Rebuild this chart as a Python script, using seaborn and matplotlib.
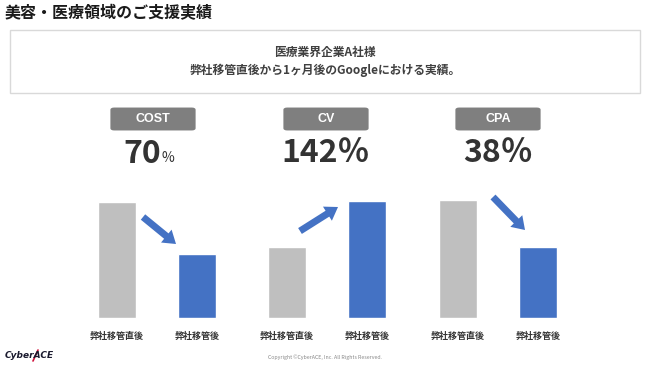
import matplotlib
matplotlib.use("Agg")
import matplotlib.pyplot as plt
import seaborn as sns
import pandas as pd
from matplotlib.patches import FancyBboxPatch, Rectangle, FancyArrowPatch

sns.set_theme(style="white")
plt.rcParams['font.family'] = ['Noto Sans CJK JP', 'DejaVu Sans']

# ---- data ----
categories = ["弊社移管直後", "弊社移管後"]
metrics = ["COST", "CV", "CPA"]
cost_values = [98, 54]
cv_values = [60, 99]
cpa_values = [100, 60]
headline_nums = ["70", "142", "38"]
headline_units = ["%", "％", "％"]
title_text = "美容・医療領域のご支援実績"
box_line1 = "医療業界企業A社様"
box_line2 = "弊社移管直後から1ヶ月後のGoogleにおける実績。"
copyright_text = "Copyright ©CyberACE, Inc. All Rights Reserved."
logo_text = "CyberACE"

GRAY = "#BFBFBF"
BLUE = "#4472C4"
LABEL_BG = "#7F7F7F"
DARK = "#333333"

W, H = 650, 366
fig = plt.figure(figsize=(W / 100, H / 100), dpi=100)
fig.patch.set_facecolor("white")

def fx(px):
    return px / W

def fy(py):
    return 1 - py / H

# Title
fig.text(fx(5), fy(13), title_text, fontsize=11.5, fontweight="bold",
         color="#1a1a1a", ha="left", va="center")

# Header box
fig.add_artist(Rectangle((fx(10), fy(93)), fx(640) - fx(10), fy(30) - fy(93),
                         transform=fig.transFigure, facecolor="white",
                         edgecolor="#D9D9D9", linewidth=1.0))
fig.text(fx(325), fy(52), box_line1, fontsize=8.5, fontweight="bold",
         color="#404040", ha="center", va="center")
fig.text(fx(325), fy(70), box_line2, fontsize=8.5, fontweight="bold",
         color="#404040", ha="center", va="center")

panel_values = [cost_values, cv_values, cpa_values]
axes_left_px = [77, 247, 418]
label_center_px = [153, 326, 498]
arrows_px = [((143, 217), (176, 244)),
             ((300, 231), (338, 207)),
             ((493, 197), (525, 230))]

for i, (metric, vals) in enumerate(zip(metrics, panel_values)):
    left = axes_left_px[i]
    ax = fig.add_axes([fx(left), fy(318), 160 / W, (318 - 200) / H])
    df = pd.DataFrame({"cat": categories, "val": vals})
    sns.barplot(data=df, x="cat", y="val", hue="cat", palette=[GRAY, BLUE],
                order=categories, hue_order=categories, legend=False,
                width=0.48, ax=ax, saturation=1)
    ax.set_xlim(-0.5, 1.5)
    ax.set_ylim(0, 100)
    ax.set_xlabel("")
    ax.set_ylabel("")
    ax.set_yticks([])
    for s in ax.spines.values():
        s.set_visible(False)
    ax.tick_params(axis="x", length=0, pad=10, labelsize=6.5, labelcolor=DARK)
    for lab in ax.get_xticklabels():
        lab.set_fontweight("bold")
    ax.patch.set_alpha(0)

    # metric label box
    cx = label_center_px[i]
    bw, bh = 86, 26
    fig.add_artist(FancyBboxPatch((fx(cx - bw / 2 + 3), fy(132 - 3)),
                                  (bw - 6) / W, (bh - 6) / H,
                                  boxstyle="round,pad=0.004,rounding_size=0.006",
                                  transform=fig.transFigure,
                                  facecolor=LABEL_BG, edgecolor="none"))
    fig.text(fx(cx), fy(119), metric, fontsize=9, fontweight="bold",
             color="white", ha="center", va="center", family="Liberation Sans")

    # headline number
    num = headline_nums[i]
    unit = headline_units[i]
    if unit == "%":
        fig.text(fx(cx + 8), fy(154), num, fontsize=23, fontweight="bold",
                 color=DARK, ha="right", va="center")
        fig.text(fx(cx + 9), fy(158), unit, fontsize=10,
                 color=DARK, ha="left", va="center")
    else:
        fig.text(fx(cx), fy(153), num + unit, fontsize=23, fontweight="bold",
                 color=DARK, ha="center", va="center")

    # arrow
    (x0, y0), (x1, y1) = arrows_px[i]
    fig.add_artist(FancyArrowPatch((fx(x0), fy(y0)), (fx(x1), fy(y1)),
                                   transform=fig.transFigure,
                                   arrowstyle="simple,head_length=9,head_width=12,tail_width=5",
                                   mutation_scale=1, color=BLUE, linewidth=0,
                                   shrinkA=0, shrinkB=0))

# Footer
fig.text(fx(325), fy(357), copyright_text, fontsize=3.8, color="#888888",
         ha="center", va="center")
fig.text(fx(5), fy(356), logo_text, fontsize=6.5, fontweight="bold", style="italic",
         color="#1a1a2e", ha="left", va="center", family="DejaVu Sans")
fig.add_artist(plt.Line2D([fx(33), fx(38)], [fy(361), fy(350)],
                          transform=fig.transFigure, color="#D0103A", linewidth=1.2))

fig.savefig("out.png", dpi=100, facecolor="white")
